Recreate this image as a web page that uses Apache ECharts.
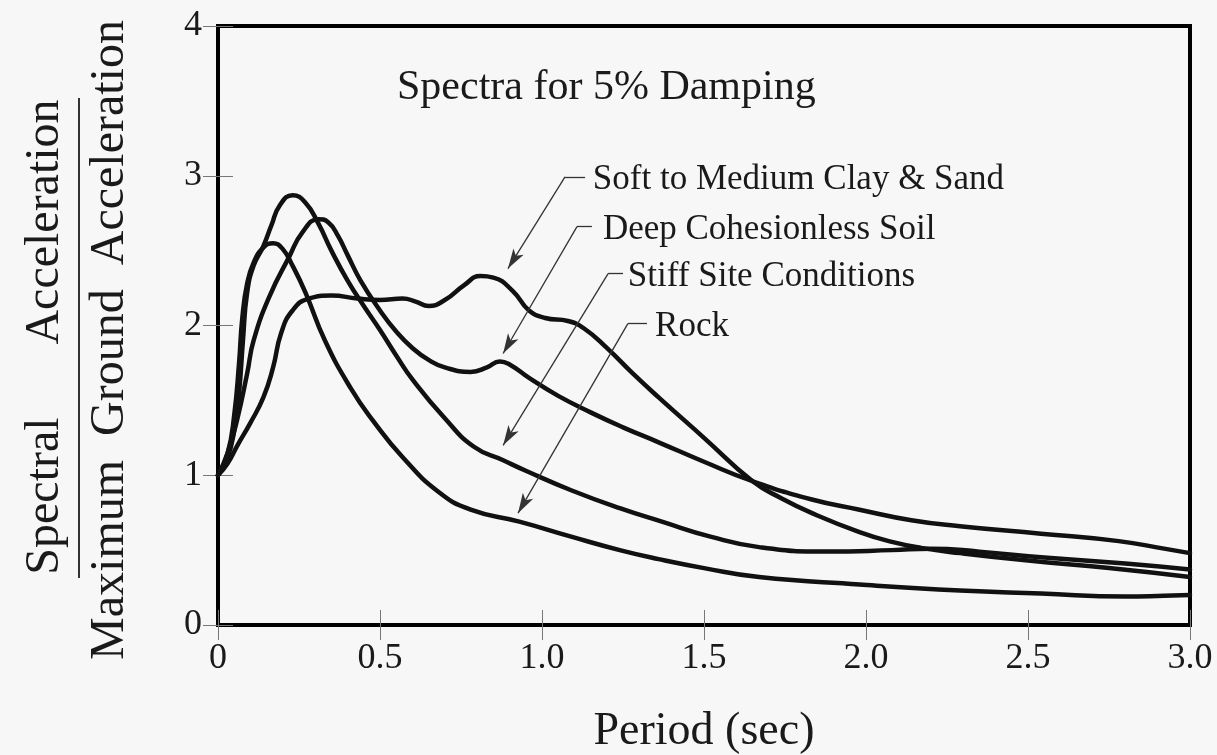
<!DOCTYPE html>
<html>
<head>
<meta charset="utf-8">
<script src="https://cdn.jsdelivr.net/npm/echarts@6/dist/echarts.min.js"></script>
<style>
html,body{margin:0;padding:0;background:#f7f7f7;}
#c{width:1217px;height:755px;}
</style>
</head>
<body>
<div id="c"></div>
<script>
// ---- data (period in sec, spectral accel / max ground accel) ----
const periodTicks = ['0','0.5','1.0','1.5','2.0','2.5','3.0'];
const ratioTicks = ['0','1','2','3','4'];

const softClay = [[0,1],[0.03,1.08],[0.06,1.2],[0.1,1.35],[0.14,1.52],[0.17,1.72],[0.195,1.95],[0.23,2.1],[0.28,2.18],[0.35,2.2],[0.43,2.18],[0.5,2.17],[0.57,2.18],[0.61,2.16],[0.65,2.13],[0.7,2.17],[0.76,2.27],[0.81,2.33],[0.85,2.32],[0.91,2.23],[0.96,2.1],[1.01,2.05],[1.08,2.03],[1.13,1.98],[1.2,1.85],[1.28,1.68],[1.36,1.52],[1.5,1.25],[1.65,0.96],[1.74,0.845],[1.83,0.75],[1.98,0.62],[2.08,0.555],[2.17,0.515],[2.29,0.48],[2.5,0.43],[2.75,0.38],[3.0,0.32]];

const deepSoil = [[0,1],[0.03,1.15],[0.06,1.38],[0.09,1.68],[0.11,1.9],[0.16,2.2],[0.22,2.46],[0.26,2.62],[0.31,2.71],[0.34,2.69],[0.37,2.6],[0.4,2.47],[0.44,2.3],[0.5,2.1],[0.55,1.96],[0.6,1.85],[0.65,1.77],[0.7,1.72],[0.78,1.69],[0.83,1.72],[0.87,1.76],[0.9,1.74],[0.96,1.65],[1.05,1.53],[1.15,1.42],[1.25,1.32],[1.36,1.22],[1.5,1.09],[1.65,0.96],[1.83,0.84],[1.98,0.77],[2.14,0.7],[2.29,0.66],[2.54,0.61],[2.78,0.56],[2.92,0.51],[3.0,0.48]];

const stiffSite = [[0,1],[0.03,1.12],[0.05,1.3],[0.065,1.55],[0.077,1.9],[0.09,2.22],[0.11,2.4],[0.14,2.53],[0.165,2.67],[0.19,2.8],[0.23,2.87],[0.27,2.82],[0.31,2.68],[0.35,2.5],[0.4,2.3],[0.45,2.13],[0.5,1.97],[0.55,1.8],[0.6,1.64],[0.7,1.38],[0.79,1.19],[0.88,1.1],[0.95,1.03],[1.09,0.9],[1.24,0.78],[1.37,0.69],[1.52,0.59],[1.67,0.52],[1.88,0.49],[2.08,0.5],[2.2,0.51],[2.35,0.49],[2.55,0.45],[2.8,0.41],[3.0,0.37]];

const rock = [[0,1],[0.03,1.15],[0.05,1.4],[0.065,1.75],[0.075,2.05],[0.09,2.28],[0.11,2.42],[0.14,2.52],[0.17,2.55],[0.2,2.51],[0.23,2.4],[0.27,2.22],[0.33,1.9],[0.41,1.58],[0.48,1.36],[0.57,1.12],[0.68,0.89],[0.78,0.77],[0.93,0.69],[1.09,0.59],[1.24,0.5],[1.36,0.44],[1.5,0.38],[1.67,0.32],[1.98,0.27],[2.29,0.23],[2.54,0.21],[2.8,0.19],[2.92,0.195],[3.0,0.2]];

const annoText = ['Soft to Medium Clay & Sand','Deep Cohesionless Soil','Stiff Site Conditions','Rock'];
const annoTextAt = [[1.157,2.975],[1.188,2.64],[1.265,2.325],[1.349,1.99]];
const annoElbow  = [[1.071,2.993],[1.108,2.66],[1.204,2.347],[1.265,2.013]];
const annoHEnd   = [[1.133,2.993],[1.154,2.66],[1.25,2.347],[1.324,2.013]];
const annoTip    = [[0.895,2.38],[0.88,1.813],[0.88,1.2],[0.926,0.747]];

// ---- chart ----
const FONT = '"Liberation Serif","Times New Roman",serif';
const INK = '#1a1a1a';
const chart = echarts.init(document.getElementById('c'), null, {renderer:'canvas'});

function curve(name, data){
  return {type:'line', name, data, smooth:0.5, symbol:'none', showSymbol:false,
    lineStyle:{color:'#111', width:4.5, cap:'round', join:'round'}, z:3, silent:true};
}
const tickStyle = {show:true, inside:true, length:15, lineStyle:{color:'#777', width:1}};

const leaderLines = [];
for (let i=0;i<annoText.length;i++){
  leaderLines.push([{coord:annoHEnd[i], symbol:'none'},{coord:annoElbow[i], symbol:'none'}]);
  leaderLines.push([{coord:annoElbow[i], symbol:'none'},{coord:annoTip[i], symbol:'arrow', symbolSize:[9,20]}]);
}

chart.setOption({
  animation:false,
  backgroundColor:'#f7f7f7',
  grid:{left:218, right:27, top:26, bottom:130, show:true, borderColor:'#000', borderWidth:4, backgroundColor:'transparent', containLabel:false, outerBoundsMode:'none'},
  xAxis:[
    {type:'value', min:0, max:3, interval:0.5, position:'bottom',
     axisLine:{show:false}, axisTick:tickStyle, splitLine:{show:false},
     axisLabel:{margin:16, fontFamily:FONT, fontSize:36, color:INK, formatter:v=>periodTicks[Math.round(v/0.5)]},
     name:'Period (sec)', nameLocation:'middle', nameGap:84, nameTextStyle:{fontFamily:FONT, fontSize:46, color:INK}},
    {type:'value', min:0, max:3, interval:0.5, position:'top',
     axisLine:{show:false}, axisTick:tickStyle, splitLine:{show:false}, axisLabel:{show:false}}
  ],
  yAxis:[
    {type:'value', min:0, max:4, interval:1, position:'left',
     axisLine:{show:false}, axisTick:tickStyle, splitLine:{show:false},
     axisLabel:{margin:16, fontFamily:FONT, fontSize:36, color:INK, formatter:v=>ratioTicks[Math.round(v)]}},
    {type:'value', min:0, max:4, interval:1, position:'right',
     axisLine:{show:false}, axisTick:tickStyle, splitLine:{show:false}, axisLabel:{show:false}}
  ],
  series:[
    curve('Soft to Medium Clay & Sand', softClay),
    curve('Deep Cohesionless Soil', deepSoil),
    curve('Stiff Site Conditions', stiffSite),
    curve('Rock', rock),
    {type:'scatter', name:'annotations', symbolSize:0, silent:true, z:4,
     itemStyle:{opacity:1},
     data: annoTextAt.map((p,i)=>({value:p, name:annoText[i]})),
     label:{show:true, position:'right', distance:0, formatter:'{b}', fontFamily:FONT, fontSize:35, color:INK, opacity:1},
     markLine:{silent:true, animation:false, symbol:'none', label:{show:false},
       lineStyle:{color:'#333', width:1.3, type:'solid', opacity:1}, emphasis:{disabled:true},
       data: leaderLines}
    }
  ],
  graphic:[
    {type:'text', x:397, y:88, silent:true,
     style:{text:'Spectra for 5% Damping', textAlign:'left', textVerticalAlign:'middle', fontFamily:FONT, fontSize:42, fill:INK}},
    {type:'text', x:45, y:496, rotation:Math.PI/2, silent:true,
     style:{text:'Spectral', textAlign:'center', textVerticalAlign:'middle', fontFamily:FONT, fontSize:48, fill:INK}},
    {type:'text', x:45, y:222, rotation:Math.PI/2, silent:true,
     style:{text:'Acceleration', textAlign:'center', textVerticalAlign:'middle', fontFamily:FONT, fontSize:48, fill:INK}},
    {type:'line', silent:true, shape:{x1:79, y1:98, x2:79, y2:578}, style:{stroke:'#333', lineWidth:2}},
    {type:'text', x:110, y:340, rotation:Math.PI/2, silent:true,
     style:{text:'Maximum  Ground  Acceleration', textAlign:'center', textVerticalAlign:'middle', fontFamily:FONT, fontSize:48, fill:INK}}
  ]
});
</script>
</body>
</html>
